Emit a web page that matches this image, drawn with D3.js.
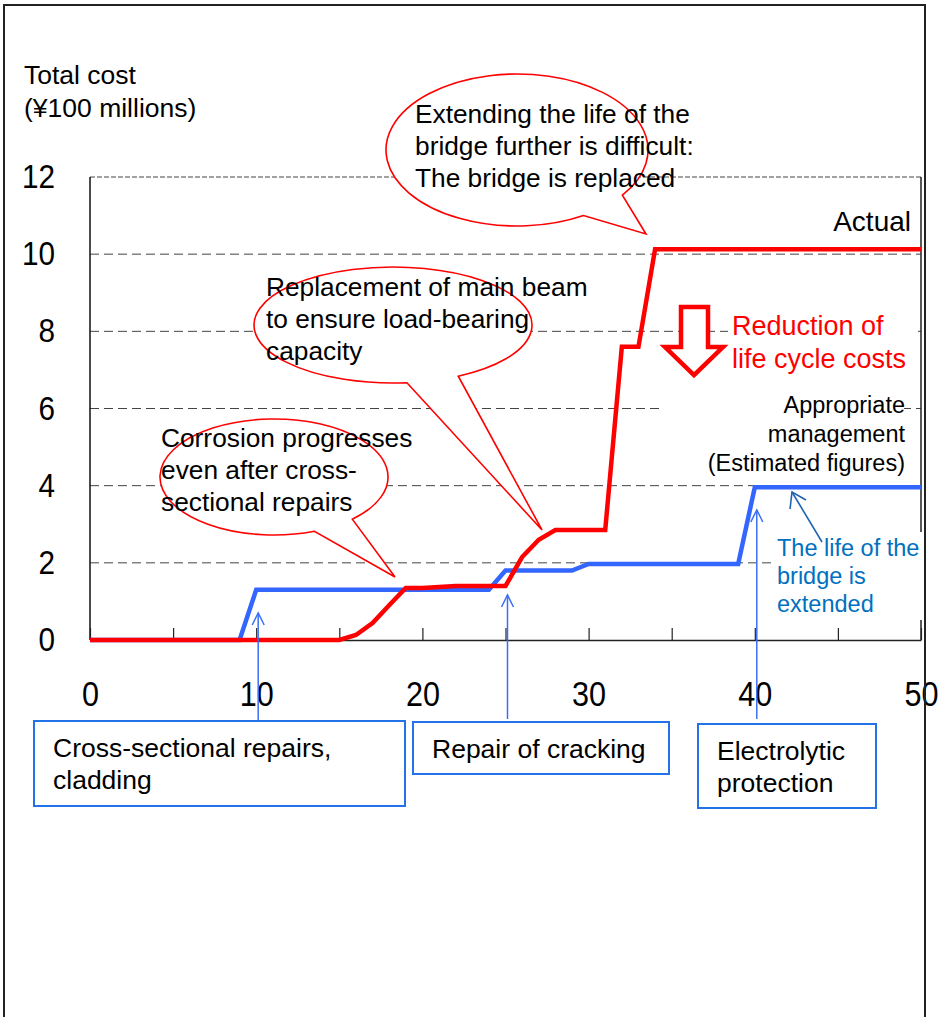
<!DOCTYPE html>
<html>
<head>
<meta charset="utf-8">
<script src="https://cdn.jsdelivr.net/npm/d3@7"></script>
<style>
  body { margin: 0; background: #fff; }
  svg { display: block; }
  text { font-family: "Liberation Sans", Arial, sans-serif; fill: #000; }
</style>
</head>
<body>
<svg id="chart" width="944" height="1017"></svg>
<script>
// Actual cost (red) and appropriate management (blue) — breakpoints
const actualYears = [0, 15, 16, 17, 18, 19, 20, 22, 25, 26, 27, 28, 31, 32, 33, 34, 50];
const actualCost  = [0, 0, 0.13, 0.44, 0.9, 1.35, 1.35, 1.4, 1.4, 2.15, 2.6, 2.85, 2.85, 7.6, 7.6, 10.13, 10.13];
const managedYears = [0, 9, 10, 24, 25, 29, 30, 39, 40, 50];
const managedCost  = [0, 0, 1.3, 1.3, 1.8, 1.8, 1.97, 1.97, 3.96, 3.96];

const xTickValues = [0, 5, 10, 15, 20, 25, 30, 35, 40, 45, 50];
const xLabelValues = [0, 10, 20, 30, 40, 50];
const yTickValues = [0, 2, 4, 6, 8, 10, 12];
const repairYears = [10, 25, 40];
const repairLabels = [["Cross-sectional repairs,", "cladding"], ["Repair of cracking"], ["Electrolytic", "protection"]];

const svg = d3.select("#chart");
const x = d3.scaleLinear().domain([0, 50]).range([90, 921]);
const y = d3.scaleLinear().domain([0, 12]).range([640, 177]);

// helper for multi-line text
function multiText(g, lines, px, py, lh, opts = {}) {
  const t = g.append("text")
    .attr("x", px).attr("y", py)
    .attr("font-size", opts.size || 26)
    .attr("text-anchor", opts.anchor || "start")
    .style("fill", opts.color || "#000");
  lines.forEach((l, i) => t.append("tspan").attr("x", px).attr("y", py + i * lh).text(l));
  return t;
}

// gridlines
svg.append("g").selectAll("line")
  .data(yTickValues.filter(d => d > 0))
  .join("line")
  .attr("x1", x(0)).attr("x2", x(50))
  .attr("y1", d => y(d)).attr("y2", d => y(d))
  .attr("stroke", "#444")
  .attr("stroke-width", 1)
  .attr("stroke-dasharray", d => d === 12 ? "5,2" : "9,5");

// speech-bubble callouts
const callouts = [
  { cx: 517, cy: 150, rx: 131, ry: 76, b1: [622, 195], b2: [583, 215], tip: [646, 234],
    lines: ["Extending the life of the", "bridge further is difficult:", "The bridge is replaced"], tx: 415, ty: 123 },
  { cx: 393, cy: 325, rx: 139, ry: 58, b1: [458, 376], b2: [407, 383], tip: [542, 530],
    lines: ["Replacement of main beam", "to ensure load-bearing", "capacity"], tx: 266, ty: 296 },
  { cx: 274, cy: 477, rx: 114, ry: 58, b1: [352, 519], b2: [315, 532], tip: [395, 577],
    lines: ["Corrosion progresses", "even after cross-", "sectional repairs"], tx: 161, ty: 447 }
];

const bubbles = svg.append("g");
callouts.forEach(c => {
  const ang = p => Math.atan2((p[1] - c.cy) / c.ry, (p[0] - c.cx) / c.rx);
  const a1 = ang(c.b1), a2 = ang(c.b2);
  const s = Math.max(a1, a2), e = Math.min(a1, a2);
  const pt = a => [c.cx + c.rx * Math.cos(a), c.cy + c.ry * Math.sin(a)];
  const ps = pt(s), pe = pt(e);
  bubbles.append("path")
    .attr("d", `M${ps[0]},${ps[1]} A${c.rx},${c.ry} 0 1 1 ${pe[0]},${pe[1]} L${c.tip[0]},${c.tip[1]} Z`)
    .attr("fill", "#fff")
    .attr("stroke", "#ff0000")
    .attr("stroke-width", 1.6);
});

// white backgrounds behind floating labels
const bgRects = [[728, 310, 190, 68], [660, 390, 244, 86], [775, 532, 160, 88]];
svg.append("g").selectAll("rect").data(bgRects).join("rect")
  .attr("x", d => d[0]).attr("y", d => d[1])
  .attr("width", d => d[2]).attr("height", d => d[3])
  .attr("fill", "#fff");

// axes
svg.append("line")
  .attr("x1", x(0)).attr("x2", x(0)).attr("y1", y(0)).attr("y2", y(12))
  .attr("stroke", "#111").attr("stroke-width", 1.5);
svg.append("line")
  .attr("x1", x(50)).attr("x2", x(50)).attr("y1", y(12)).attr("y2", 532)
  .attr("stroke", "#222").attr("stroke-width", 1.5);
svg.append("line")
  .attr("x1", x(50)).attr("x2", x(50)).attr("y1", 620).attr("y2", y(0))
  .attr("stroke", "#222").attr("stroke-width", 1.5);

const xAxis = svg.append("g")
  .attr("transform", `translate(0,${y(0)})`)
  .call(d3.axisBottom(x)
    .tickValues(xTickValues)
    .tickSizeInner(-12)
    .tickSizeOuter(0)
    .tickPadding(40)
    .tickFormat(d => xLabelValues.includes(d) ? d : ""));
xAxis.select(".domain").attr("stroke", "#222").attr("stroke-width", 1.5);
xAxis.selectAll(".tick line").attr("stroke", "#222").attr("stroke-width", 1.2);
xAxis.selectAll(".tick text")
  .attr("font-family", "'Liberation Sans Narrow', 'Liberation Sans', sans-serif")
  .attr("font-size", 36)
  .attr("transform", "scale(0.85,1)")
  .style("fill", "#000");

const yAxis = svg.append("g")
  .attr("transform", `translate(55,0)`)
  .call(d3.axisLeft(y).tickValues(yTickValues).tickSize(0).tickPadding(0));
yAxis.select(".domain").remove();
yAxis.selectAll(".tick text")
  .attr("font-family", "'Liberation Sans Narrow', 'Liberation Sans', sans-serif")
  .attr("font-size", 33)
  .attr("transform", "scale(0.9,1)")
  .style("fill", "#000");

// series
const line = d3.line().x(d => x(d[0])).y(d => y(d[1]));
svg.append("path")
  .datum(d3.zip(managedYears, managedCost))
  .attr("d", line)
  .attr("fill", "none")
  .attr("stroke", "#3366ff")
  .attr("stroke-width", 4.5);
svg.append("path")
  .datum(d3.zip(actualYears, actualCost))
  .attr("d", line)
  .attr("fill", "none")
  .attr("stroke", "#ff0000")
  .attr("stroke-width", 4.5);

// callout texts
callouts.forEach(c => multiText(svg, c.lines, c.tx, c.ty, 32, { size: 26.3 }));

// axis title
multiText(svg, ["Total cost", "(¥100 millions)"], 24, 84, 33, { size: 26.5 });

// series labels
svg.append("text").attr("x", 911).attr("y", 231).attr("text-anchor", "end")
  .attr("font-size", 28).text("Actual");
multiText(svg, ["Appropriate", "management", "(Estimated figures)"], 905, 413, 29, { size: 23.5, anchor: "end" });
multiText(svg, ["Reduction of", "life cycle costs"], 732, 335, 33, { size: 27, color: "#ff0000" });
multiText(svg, ["The life of the", "bridge is", "extended"], 777, 556, 28, { size: 23.5, color: "#0070c0" });

// big down arrow
svg.append("path")
  .attr("d", "M681,307 L708,307 L708,347 L723,347 L694,375 L665,347 L681,347 Z")
  .attr("fill", "#fff")
  .attr("stroke", "#ff0000")
  .attr("stroke-width", 4.5)
  .attr("stroke-linejoin", "miter");

// pointer "life extended"
svg.append("line").attr("x1", 822).attr("y1", 542).attr("x2", 792).attr("y2", 492)
  .attr("stroke", "#1f64b0").attr("stroke-width", 1.6);
svg.append("path").attr("d", "M790,509 L792,492 L806,500")
  .attr("fill", "none").attr("stroke", "#1f64b0").attr("stroke-width", 1.6);

// repair boxes
const boxes = [[34, 721, 371, 85], [413, 722, 256, 52], [698, 724, 178, 84]];
const boxTop = [721, 719, 719];
const arrowTips = [613, 595, 510];
const arrows = svg.append("g");
repairYears.forEach((yr, i) => {
  const ax = x(yr) + 2;
  arrows.append("line")
    .attr("x1", ax).attr("x2", ax).attr("y1", boxTop[i]).attr("y2", arrowTips[i])
    .attr("stroke", "#3a6ff5").attr("stroke-width", 1.5);
  arrows.append("path")
    .attr("d", `M${ax - 6},${arrowTips[i] + 12} L${ax},${arrowTips[i]} L${ax + 6},${arrowTips[i] + 12}`)
    .attr("fill", "none").attr("stroke", "#3a6ff5").attr("stroke-width", 1.5);
});
const boxG = svg.append("g");
boxes.forEach((b, i) => {
  boxG.append("rect")
    .attr("x", b[0]).attr("y", b[1]).attr("width", b[2]).attr("height", b[3])
    .attr("fill", "#fff").attr("stroke", "#2472e8").attr("stroke-width", 2);
  multiText(boxG, repairLabels[i], b[0] + 19, b[1] + 36, 32, { size: 26.5 });
});

// outer frame
svg.append("rect")
  .attr("x", 4).attr("y", 5).attr("width", 921).attr("height", 1040)
  .attr("fill", "none").attr("stroke", "#222").attr("stroke-width", 2);
</script>
</body>
</html>
